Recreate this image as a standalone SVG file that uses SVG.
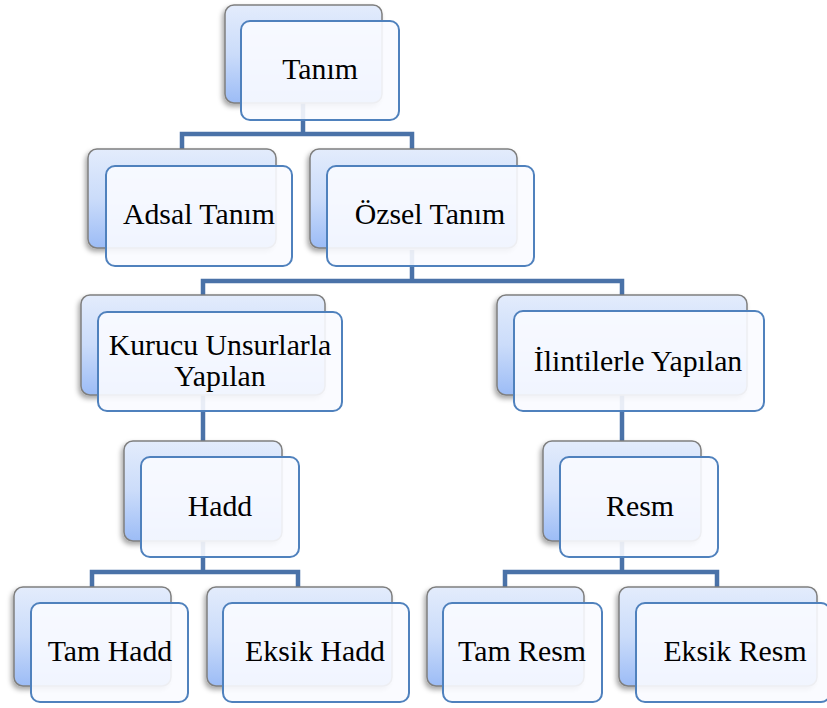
<svg xmlns="http://www.w3.org/2000/svg" width="827" height="708" viewBox="0 0 827 708">
<defs>
<linearGradient id="bg" x1="0" y1="0" x2="0" y2="1">
<stop offset="0" stop-color="#e3ecfc"/>
<stop offset="0.5" stop-color="#cbdcfa"/>
<stop offset="1" stop-color="#9cbcf6"/>
</linearGradient>
<filter id="sh" x="-20%" y="-20%" width="140%" height="150%">
<feDropShadow dx="-2" dy="3" stdDeviation="2.5" flood-color="#000" flood-opacity="0.35"/>
</filter>
</defs>
<style>
.back{fill:url(#bg);stroke:#7f7f7f;stroke-width:1.5;filter:url(#sh)}
.front{fill:#f9fbff;fill-opacity:0.9;stroke:#4f81bd;stroke-width:2}
.con{fill:none;stroke:#4a72a8;stroke-width:4.5;stroke-linejoin:miter}
.lbl{font-family:'Liberation Serif','DejaVu Serif',serif;font-size:29.8px;fill:#000;text-anchor:middle}
</style>
<rect width="827" height="708" fill="#fff"/>
<g id="connectors">
<path class="con" d="M303 100 V134 M182 150 V134 H412 V150"/>
<path class="con" d="M412 250 V281 M203 296 V281 H622 V296"/>
<path class="con" d="M203 395 V441"/>
<path class="con" d="M622 395 V441"/>
<path class="con" d="M203 540 V572 M92 588 V572 H298 V588"/>
<path class="con" d="M622 540 V572 M505 588 V572 H717 V588"/>
</g>
<g font-family="Liberation Serif, serif">
<g id="n-tanim">
<rect class="back" x="225" y="5" width="157" height="98" rx="9"/>
<rect class="front" x="241" y="21" width="158" height="99" rx="9"/>
<text class="lbl" x="320" y="79">Tanım</text>
</g>
<g id="n-adsal">
<rect class="back" x="88" y="149" width="188" height="99" rx="9"/>
<rect class="front" x="106" y="166" width="186" height="100" rx="9"/>
<text class="lbl" x="199" y="224">Adsal Tanım</text>
</g>
<g id="n-ozsel">
<rect class="back" x="310" y="149" width="207" height="99" rx="9"/>
<rect class="front" x="327" y="166" width="207" height="100" rx="9"/>
<text class="lbl" x="430" y="224">Özsel Tanım</text>
</g>
<g id="n-kurucu">
<rect class="back" x="81" y="295" width="244" height="100" rx="9"/>
<rect class="front" x="98" y="312" width="244" height="99" rx="9"/>
<text class="lbl" x="220" y="355">Kurucu Unsurlarla</text>
<text class="lbl" x="220" y="386">Yapılan</text>
</g>
<g id="n-ilintiler">
<rect class="back" x="497" y="295" width="250" height="100" rx="9"/>
<rect class="front" x="514" y="311" width="250" height="100" rx="9"/>
<text class="lbl" x="638" y="371">İlintilerle Yapılan</text>
</g>
<g id="n-hadd">
<rect class="back" x="124" y="441" width="158" height="100" rx="9"/>
<rect class="front" x="141" y="457" width="158" height="100" rx="9"/>
<text class="lbl" x="220" y="516">Hadd</text>
</g>
<g id="n-resm">
<rect class="back" x="543" y="441" width="158" height="100" rx="9"/>
<rect class="front" x="560" y="457" width="158" height="100" rx="9"/>
<text class="lbl" x="640" y="516">Resm</text>
</g>
<g id="n-tamhadd">
<rect class="back" x="14" y="587" width="157" height="99" rx="9"/>
<rect class="front" x="31" y="603" width="157" height="99" rx="9"/>
<text class="lbl" x="110" y="661">Tam Hadd</text>
</g>
<g id="n-eksikhadd">
<rect class="back" x="207" y="587" width="185" height="99" rx="9"/>
<rect class="front" x="223" y="603" width="186" height="99" rx="9"/>
<text class="lbl" x="315" y="661">Eksik Hadd</text>
</g>
<g id="n-tamresm">
<rect class="back" x="427" y="587" width="157" height="99" rx="9"/>
<rect class="front" x="443" y="603" width="159" height="99" rx="9"/>
<text class="lbl" x="522" y="661">Tam Resm</text>
</g>
<g id="n-eksikresm">
<rect class="back" x="619" y="587" width="198" height="99" rx="9"/>
<rect class="front" x="636" y="603" width="194" height="99" rx="9"/>
<text class="lbl" x="735" y="661">Eksik Resm</text>
</g>
</g>
</svg>
